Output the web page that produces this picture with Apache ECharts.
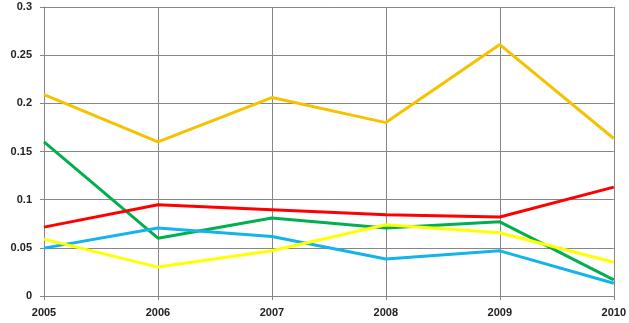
<!DOCTYPE html>
<html>
<head>
<meta charset="utf-8">
<script src="https://cdn.jsdelivr.net/npm/echarts@6/dist/echarts.min.js"></script>
<style>html,body{margin:0;padding:0;background:#fff;}#c{width:629px;height:323px;}</style>
</head>
<body>
<div id="c"></div>
<script>
const years = ['2005', '2006', '2007', '2008', '2009', '2010'];
const goldSeries = [0.209, 0.160, 0.206, 0.180, 0.261, 0.1635];
const greenSeries = [0.160, 0.060, 0.081, 0.0705, 0.077, 0.0167];
const redSeries = [0.0715, 0.0948, 0.0896, 0.0844, 0.082, 0.113];
const blueSeries = [0.0497, 0.0705, 0.0618, 0.0385, 0.0469, 0.0132];
const yellowSeries = [0.059, 0.030, 0.0469, 0.074, 0.0656, 0.035];
const yTicks = [0, 0.05, 0.1, 0.15, 0.2, 0.25, 0.3];

const chart = echarts.init(document.getElementById('c'), null, {renderer: 'canvas'});
const mk = (name, data, color) => ({
  name, type: 'line', data, symbol: 'none', smooth: false,
  lineStyle: {color, width: 3}, itemStyle: {color}
});
const labelFont = {fontFamily: 'Liberation Sans, Arial, sans-serif', fontSize: 11, fontWeight: 'bold', color: '#222'};
chart.setOption({
  animation: false,
  backgroundColor: '#fff',
  grid: {left: 44, right: 14, top: 7, bottom: 27, containLabel: false},
  xAxis: {
    type: 'category', data: years, boundaryGap: false,
    axisLine: {lineStyle: {color: '#868686', width: 1}},
    axisTick: {show: true, length: 4, lineStyle: {color: '#868686'}, alignWithLabel: true},
    axisLabel: Object.assign({margin: 11, interval: 0}, labelFont),
    splitLine: {show: true, lineStyle: {color: '#868686', width: 1}}
  },
  yAxis: {
    type: 'value', min: yTicks[0], max: yTicks[yTicks.length - 1], interval: 0.05,
    axisLine: {show: true, lineStyle: {color: '#868686', width: 1}},
    axisTick: {show: true, length: 4, lineStyle: {color: '#868686'}},
    axisLabel: Object.assign({margin: 12, formatter: v => String(+v.toFixed(2))}, labelFont),
    splitLine: {show: true, lineStyle: {color: '#868686', width: 1}}
  },
  series: [
    mk('gold', goldSeries, '#F5C200'),
    mk('green', greenSeries, '#00B050'),
    mk('red', redSeries, '#FF0000'),
    mk('blue', blueSeries, '#12B4EA'),
    mk('yellow', yellowSeries, '#FFFF00')
  ]
});
</script>
</body>
</html>
